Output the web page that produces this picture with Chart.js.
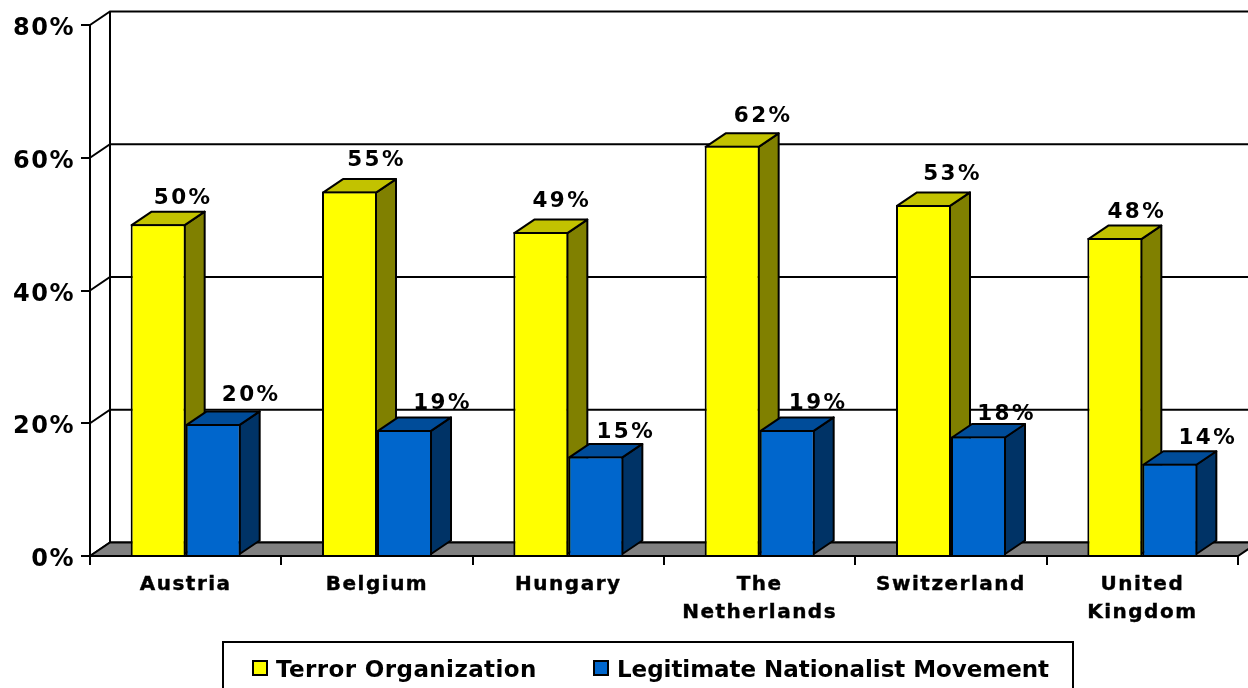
<!DOCTYPE html>
<html><head><meta charset="utf-8">
<style>html,body{margin:0;padding:0;background:#fff;overflow:hidden}canvas{display:block}</style>
<script src="https://cdn.jsdelivr.net/npm/chart.js@4"></script>
</head><body><canvas id="c" width="1248" height="688"></canvas>
<script>
const categories = ['Austria','Belgium','Hungary',['The','Netherlands'],'Switzerland',['United','Kingdom']];
const terrorOrganization = [50,54.9,48.8,61.8,52.9,47.9];
const legitimateNationalist = [19.9,19,15,19,18,13.9];
const seriesNames = ['Terror Organization','Legitimate Nationalist Movement'];
const yTicks = [0,20,40,60,80];

const FONT = '"DejaVu Sans", Verdana, sans-serif';
const DX = 20, DY = -13.5;
const faces = [{top:'#C2C200',side:'#808000'},{top:'#004C99',side:'#003366'}];
// label placement relative to the top-front-centre of each bar
const labelNudge = [
  [[25,-26],[27,-31],[21,-31],[31,-29],[29,-30],[22,-26]],
  [[38,-28],[38,-26],[30,-24],[31,-26],[28,-22],[38,-25]]
];

function poly(ctx, pts, fill){
  ctx.beginPath();
  pts.forEach((p,i)=> i?ctx.lineTo(p[0],p[1]):ctx.moveTo(p[0],p[1]));
  ctx.closePath();
  if(fill){ctx.fillStyle=fill;ctx.fill();}
  ctx.stroke();
}
const threeD = {
  id:'threeD',
  beforeDraw(chart){ chart.ctx.letterSpacing='1.5px'; },
  beforeDatasetsDraw(chart){
    const {ctx,chartArea:a,scales:{y}} = chart;
    ctx.save();
    ctx.strokeStyle='#000';ctx.lineWidth=2;ctx.lineJoin='miter';
    yTicks.forEach(v=>{
      const py=y.getPixelForValue(v);
      ctx.beginPath();ctx.moveTo(a.left,py);ctx.lineTo(a.left+DX,py+DY);
      ctx.lineTo(a.right+DX,py+DY);ctx.stroke();
    });
    const t=y.getPixelForValue(80),b=y.getPixelForValue(0);
    ctx.beginPath();ctx.moveTo(a.left+DX,t+DY);ctx.lineTo(a.left+DX,b+DY);ctx.stroke();
    poly(ctx,[[a.left,b],[a.left+DX,b+DY],[a.right+DX,b+DY],[a.right,b]],'#808080');
    ctx.lineJoin='round';
    chart.data.datasets.forEach((ds,i)=>{
      const f=faces[i];
      chart.getDatasetMeta(i).data.forEach(el=>{
        const l=el.x-el.width/2+1,r=el.x+el.width/2-1,t=el.y+1,b=el.base-1;
        poly(ctx,[[r,t],[r+DX,t+DY],[r+DX,b+DY],[r,b]],f.side);
        poly(ctx,[[l,t],[l+DX,t+DY],[r+DX,t+DY],[r,t]],f.top);
      });
    });
    ctx.restore();
  },
  afterDatasetsDraw(chart){
    const {ctx} = chart;
    ctx.save();
    ctx.font='bold 21.5px '+FONT;ctx.letterSpacing='2.4px';ctx.fillStyle='#000';
    ctx.textAlign='center';ctx.textBaseline='middle';
    chart.data.datasets.forEach((ds,i)=>{
      chart.getDatasetMeta(i).data.forEach((el,j)=>{
        const n=labelNudge[i][j];
        ctx.fillText(Math.round(ds.data[j])+'%',el.x+n[0],el.y+n[1]);
      });
    });
    ctx.restore();
  },
  afterDraw(chart){
    const {ctx} = chart;
    ctx.save();
    ctx.lineWidth=2;ctx.strokeStyle='#000';
    ctx.fillStyle='#fff';
    ctx.beginPath();ctx.rect(223,642,850,60);ctx.fill();ctx.stroke();
    ctx.font='bold 23px '+FONT;ctx.textBaseline='alphabetic';ctx.textAlign='left';
    const boxX=[253,594],textX=[276,617],spacing=['0.4px','-0.05px'];
    chart.data.datasets.forEach((ds,i)=>{
      ctx.fillStyle=ds.backgroundColor;
      ctx.beginPath();ctx.rect(boxX[i],661,14,14);ctx.fill();ctx.stroke();
      ctx.fillStyle='#000';
      ctx.letterSpacing=spacing[i];
      ctx.fillText(ds.label,textX[i],677);
    });
    ctx.restore();
  }
};
new Chart(document.getElementById('c'),{
  type:'bar',
  plugins:[threeD],
  data:{labels:categories,datasets:[
    {label:seriesNames[0],data:terrorOrganization,backgroundColor:'#FFFF00',borderColor:'#000',borderWidth:2},
    {label:seriesNames[1],data:legitimateNationalist,backgroundColor:'#0066CC',borderColor:'#000',borderWidth:2}
  ]},
  options:{
    responsive:false,animation:false,devicePixelRatio:1,
    layout:{padding:{top:25,right:10,left:0,bottom:0}},
    datasets:{bar:{barPercentage:1,categoryPercentage:0.575}},
    plugins:{legend:{display:false},tooltip:{enabled:false}},
    scales:{
      x:{
        afterFit(s){s.height=132;},
        grid:{drawOnChartArea:false,color:'#000',lineWidth:2,tickLength:9,offset:true},
        border:{color:'#000',width:2},
        ticks:{color:'#000',font:{family:FONT,weight:'bold',size:20,lineHeight:1.4},padding:6,maxRotation:0,autoSkip:false,textStrokeColor:'#000',textStrokeWidth:0.4}
      },
      y:{
        afterFit(s){s.width=90;},
        min:0,max:80,
        grid:{drawOnChartArea:false,color:'#000',lineWidth:2,tickLength:9},
        border:{color:'#000',width:2},
        ticks:{stepSize:20,color:'#000',font:{family:FONT,weight:'bold',size:24},padding:6,labelOffset:4,callback:v=>v+'%'}
      }
    }
  }
});
</script></body></html>
